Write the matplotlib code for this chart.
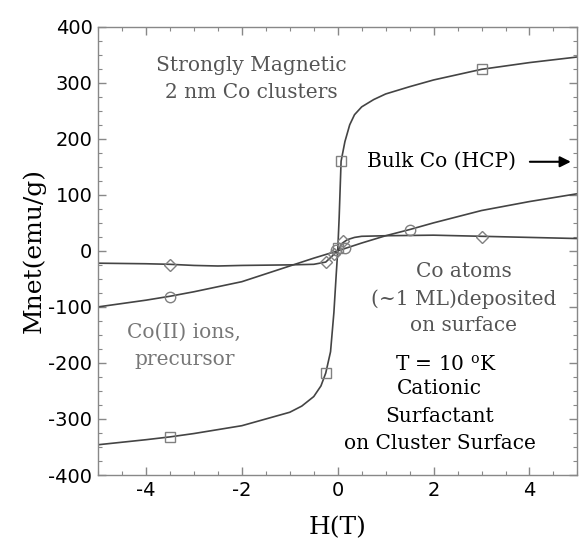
import matplotlib
matplotlib.use("Agg")
import matplotlib.pyplot as plt
from matplotlib.ticker import MultipleLocator

# ----- data -----
# cluster (squares) curve
clus_x = [-5, -4, -3.5, -3, -2, -1.5, -1, -0.75, -0.5, -0.35, -0.25, -0.15, -0.08, -0.03,
          0, 0.03, 0.07, 0.15, 0.25, 0.35, 0.5, 0.75, 1, 1.5, 2, 3, 4, 5]
clus_y = [-346, -337, -332, -326, -312, -300, -288, -277, -260, -241, -218, -180, -110, -40,
          0, 60, 160, 195, 225, 243, 257, 270, 280, 293, 305, 324, 336, 346]
clus_mx = [-3.5, -0.25, 0.0, 0.07, 3.0]
clus_my = [-332, -218, 6, 160, 324]

# Co atoms (circles) curve
atom_x = [-5, -4, -3.5, -3, -2, -1, -0.5, 0, 0.5, 1, 1.5, 2, 3, 4, 5]
atom_y = [-100, -88, -81, -73, -55, -27, -13, 0, 14, 27, 38, 50, 72, 88, 102]
atom_mx = [-3.5, -0.03, 0.15, 1.5]
atom_my = [-82, 1, 5, 38]

# Co(II) ions (diamonds) curve
ion_x = [-5, -4, -3.5, -3, -2.5, -2, -1, -0.5, -0.25, -0.1, 0, 0.1, 0.2, 0.35, 0.5, 1, 2, 3, 4, 5]
ion_y = [-22, -23, -24, -26, -27, -26, -25, -24, -20, -8, 0, 14, 20, 24, 26, 27, 28, 26, 24, 22]
ion_mx = [-3.5, -0.25, -0.08, 0.1, 3.0]
ion_my = [-25, -20, -6, 17, 25]

LINE_C = "#444444"
MARK_C = "#808080"

plt.rcParams["mathtext.fontset"] = "dejavuserif"
plt.rcParams["axes.unicode_minus"] = False

fig = plt.figure(figsize=(5.79, 5.42), dpi=100)
ax = fig.add_axes([0.1693, 0.1236, 0.828, 0.8271])

for xs, ys, mx, my, mk, ms in [
    (clus_x, clus_y, clus_mx, clus_my, "s", 7.5),
    (atom_x, atom_y, atom_mx, atom_my, "o", 7.5),
    (ion_x, ion_y, ion_mx, ion_my, "D", 6.5),
]:
    ax.plot(xs, ys, color=LINE_C, lw=1.2, zorder=2)
    ax.plot(mx, my, linestyle="none", marker=mk, markersize=ms,
            markerfacecolor="none", markeredgecolor=MARK_C, markeredgewidth=1.0, zorder=3)

ax.set_xlim(-5, 5)
ax.set_ylim(-400, 400)
ax.xaxis.set_major_locator(MultipleLocator(2))
ax.xaxis.set_minor_locator(MultipleLocator(0.5))
ax.yaxis.set_major_locator(MultipleLocator(100))
ax.yaxis.set_minor_locator(MultipleLocator(25))
ax.tick_params(which="both", direction="in", top=True, right=True, color="#888888")
ax.tick_params(which="major", length=6, width=1, labelsize=14, pad=4)
ax.tick_params(which="minor", length=3, width=0.8)
for sp in ax.spines.values():
    sp.set_color("#888888")
    sp.set_linewidth(1.0)

ax.set_xlabel("H(T)", family="DejaVu Serif", fontsize=18, labelpad=12)
ax.set_ylabel("Mnet(emu/g)", family="DejaVu Serif", fontsize=18, labelpad=2)

serif = dict(family="DejaVu Serif", fontsize=14.5, ha="center", va="center")
ax.text(-1.8, 331, "Strongly Magnetic", color="#555555", **serif)
ax.text(-1.8, 283, "2 nm Co clusters", color="#555555", **serif)
ax.text(2.17, 159, "Bulk Co (HCP)", color="black", **serif)
ax.annotate("", xy=(4.92, 159), xytext=(3.95, 159),
            arrowprops=dict(arrowstyle="-|>", color="black", lw=1.5, mutation_scale=16))
ax.text(2.63, -37, "Co atoms", color="#555555", **serif)
ax.text(2.63, -86, "(~1 ML)deposited", color="#555555", **serif)
ax.text(2.63, -134, "on surface", color="#555555", **serif)
ax.text(-3.2, -145, "Co(II) ions,", color="#777777", **serif)
ax.text(-3.2, -193, "precursor", color="#777777", **serif)
ax.text(2.25, -204, r"T = 10 $^\mathrm{o}$K", color="black", **serif)
ax.text(2.13, -246, "Cationic", color="black", **serif)
ax.text(2.13, -296, "Surfactant", color="black", **serif)
ax.text(2.13, -343, "on Cluster Surface", color="black", **serif)

fig.savefig("out.png", dpi=100)
